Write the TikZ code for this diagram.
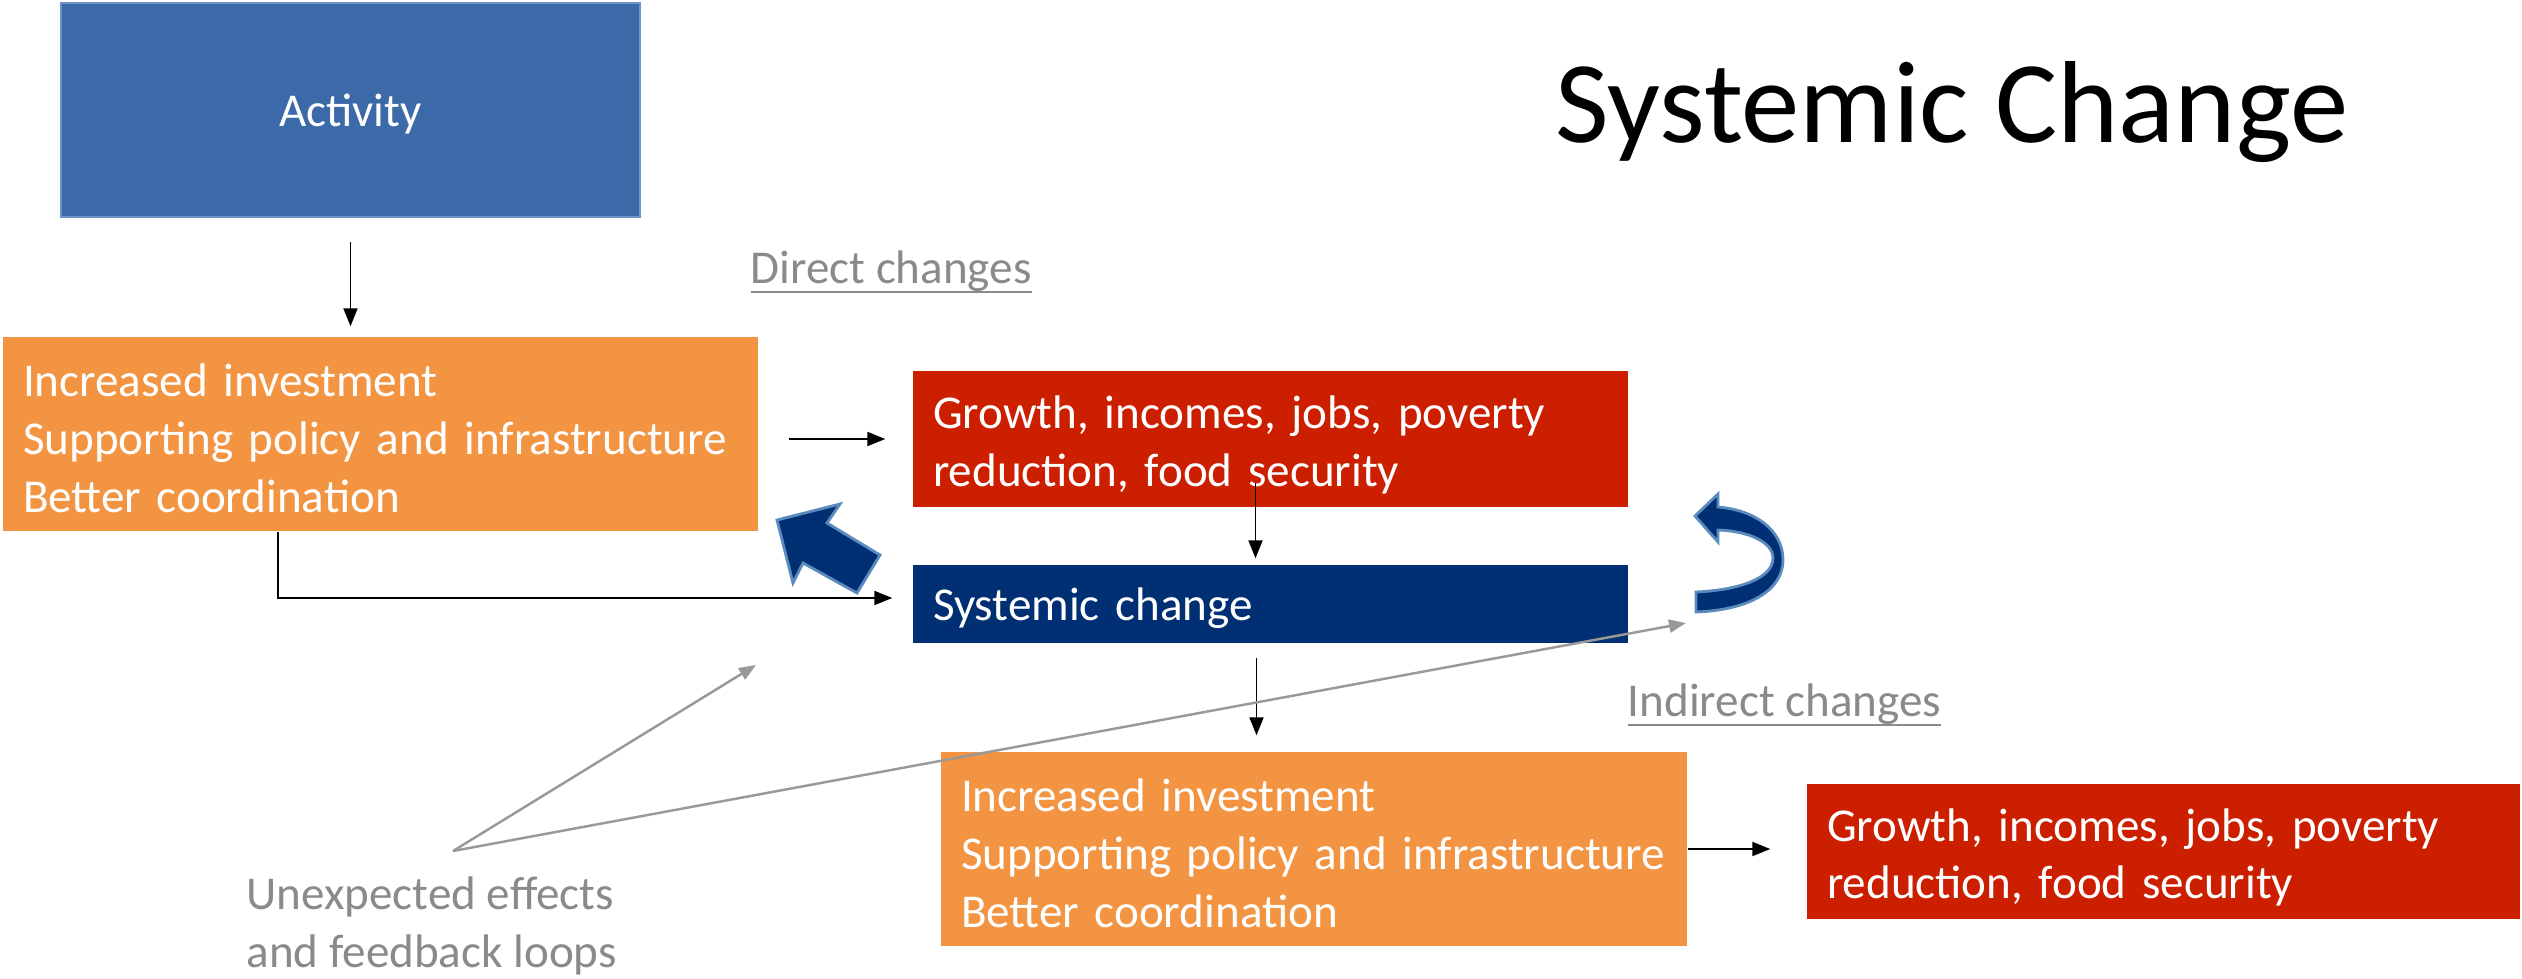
\documentclass[tikz,border=0pt]{standalone}
\usepackage{fontspec}
\setmainfont{Carlito}
\usepackage{tikz}
\usetikzlibrary{arrows.meta,positioning}
\definecolor{actblue}{HTML}{3C69A8}
\definecolor{actedge}{HTML}{6C94C6}
\definecolor{invorange}{HTML}{F29442}
\definecolor{growred}{HTML}{CC1F00}
\definecolor{sysnavy}{HTML}{003073}
\definecolor{fatedge}{HTML}{5B8BBE}
\definecolor{notegray}{HTML}{8A8A8A}
\definecolor{linegray}{HTML}{999999}
\newcommand{\ulbar}[1]{\setbox0=\hbox{#1}\rlap{\rule[-2.9pt]{\wd0}{0.75pt}}\box0}
\newcommand{\boxfont}{\fontsize{13.4}{16.4}\selectfont}
\tikzstyle{arrow} = [line width=0.55pt,->,>={Triangle[length=0.18cm,width=0.14cm]}]
\tikzstyle{grayarrow} = [line width=0.7pt,linegray,->,>={Triangle[length=0.17cm,width=0.13cm]}]
\tikzstyle{box} = [rectangle, inner xsep=0.2cm, inner ysep=0pt, text=white, align=left, font=\boxfont]
\tikzstyle{invbox} = [box, fill=invorange, minimum height=1.94cm, text depth=30.5pt]
\tikzstyle{growbox} = [box, fill=growred, text depth=15.2pt]
\tikzstyle{note} = [inner sep=0pt, text=notegray, font=\boxfont]

\begin{document}
\begin{tikzpicture}
            \useasboundingbox (0,0) rectangle (25.22,-9.78);
            \node[box, fill=actblue, draw=actedge, line width=0.5pt, align=center, text depth=0pt, minimum width=5.79cm, minimum height=2.14cm] (activity) at (3.505,-1.10) {Activity};
            \node[invbox, text width=7.15cm] (inv1) at (3.805,-4.34) {Increased investment\\Supporting policy and infrastructure\\Better coordination};
            \node[growbox, text width=6.75cm, minimum height=1.36cm] (growth1) at (12.705,-4.39) {Growth, incomes, jobs, poverty\\reduction, food security};
            \node[box, fill=sysnavy, text depth=0pt, text width=6.75cm, minimum height=0.78cm] (sys) at (12.705,-6.04) {Systemic change};
            \node[invbox, text width=7.06cm] (inv2) at (13.14,-8.49) {Increased investment\\Supporting policy and infrastructure\\Better coordination};
            \node[growbox, text width=6.73cm, minimum height=1.35cm] (growth2) at (21.635,-8.515) {Growth, incomes, jobs, poverty\\reduction, food security};
            \node[anchor=base west, inner sep=0pt, font=\fontsize{33.2}{40}\selectfont] (title) at (15.55,-1.42) {Systemic Change};
            \node[note, anchor=base west] (direct) at (7.50,-2.83) {\ulbar{Direct changes}};
            \node[note, anchor=base west] (indirect) at (16.27,-7.16) {\ulbar{Indirect changes}};
            \node[note, anchor=north west, align=left] (unexpected) at (2.46,-8.76) {Unexpected effects\\and feedback loops};
            \coordinate (fb) at (4.53,-8.51);
            \coordinate (fbleft) at (7.56,-6.65);
            \coordinate (fbright) at (16.86,-6.23);
            \draw[arrow, shorten <=0.24cm, shorten >=0.1cm] (activity.south) -- (activity.south |- inv1.north);
            \draw[arrow, shorten <=0.3cm, shorten >=0.27cm] (inv1.east |- growth1.west) -- (growth1.west);
            \draw[arrow, shorten <=-0.25cm, shorten >=0.06cm] ([xshift=-0.15cm]growth1.south) -- ([xshift=-0.15cm]sys.north);
            \draw[arrow, shorten <=0.14cm, shorten >=0.16cm] ([xshift=-0.14cm]sys.south) -- ([xshift=-0.14cm]sys.south |- inv2.north);
            \draw[arrow, shorten >=0.36cm] (inv2.east) -- (inv2.east -| growth2.west);
            \draw[arrow, shorten >=0.2cm] ([xshift=-1.025cm]inv1.south) |- ([yshift=0.06cm]sys.west);
            \draw[grayarrow] (fb) -- (fbleft);
            \draw[grayarrow] (fb) -- (fbright);
            \filldraw[fill=sysnavy, draw=fatedge, line width=0.8pt] (7.77,-5.20) -- (8.40,-5.04) -- (8.27,-5.23) -- (8.80,-5.55) -- (8.57,-5.93) -- (8.03,-5.63) -- (7.93,-5.83) -- cycle;
            \filldraw[fill=sysnavy, draw=fatedge, line width=0.8pt] (16.96,-6.12) .. controls (17.50,-6.10) and (17.83,-5.90) .. (17.83,-5.60) .. controls (17.83,-5.30) and (17.55,-5.10) .. (17.18,-5.07) -- (17.18,-4.94) -- (16.95,-5.16) -- (17.18,-5.42) -- (17.18,-5.30) .. controls (17.48,-5.31) and (17.73,-5.42) .. (17.73,-5.58) .. controls (17.73,-5.78) and (17.40,-5.90) .. (16.96,-5.92) -- cycle;
        \end{tikzpicture}
\end{document}
